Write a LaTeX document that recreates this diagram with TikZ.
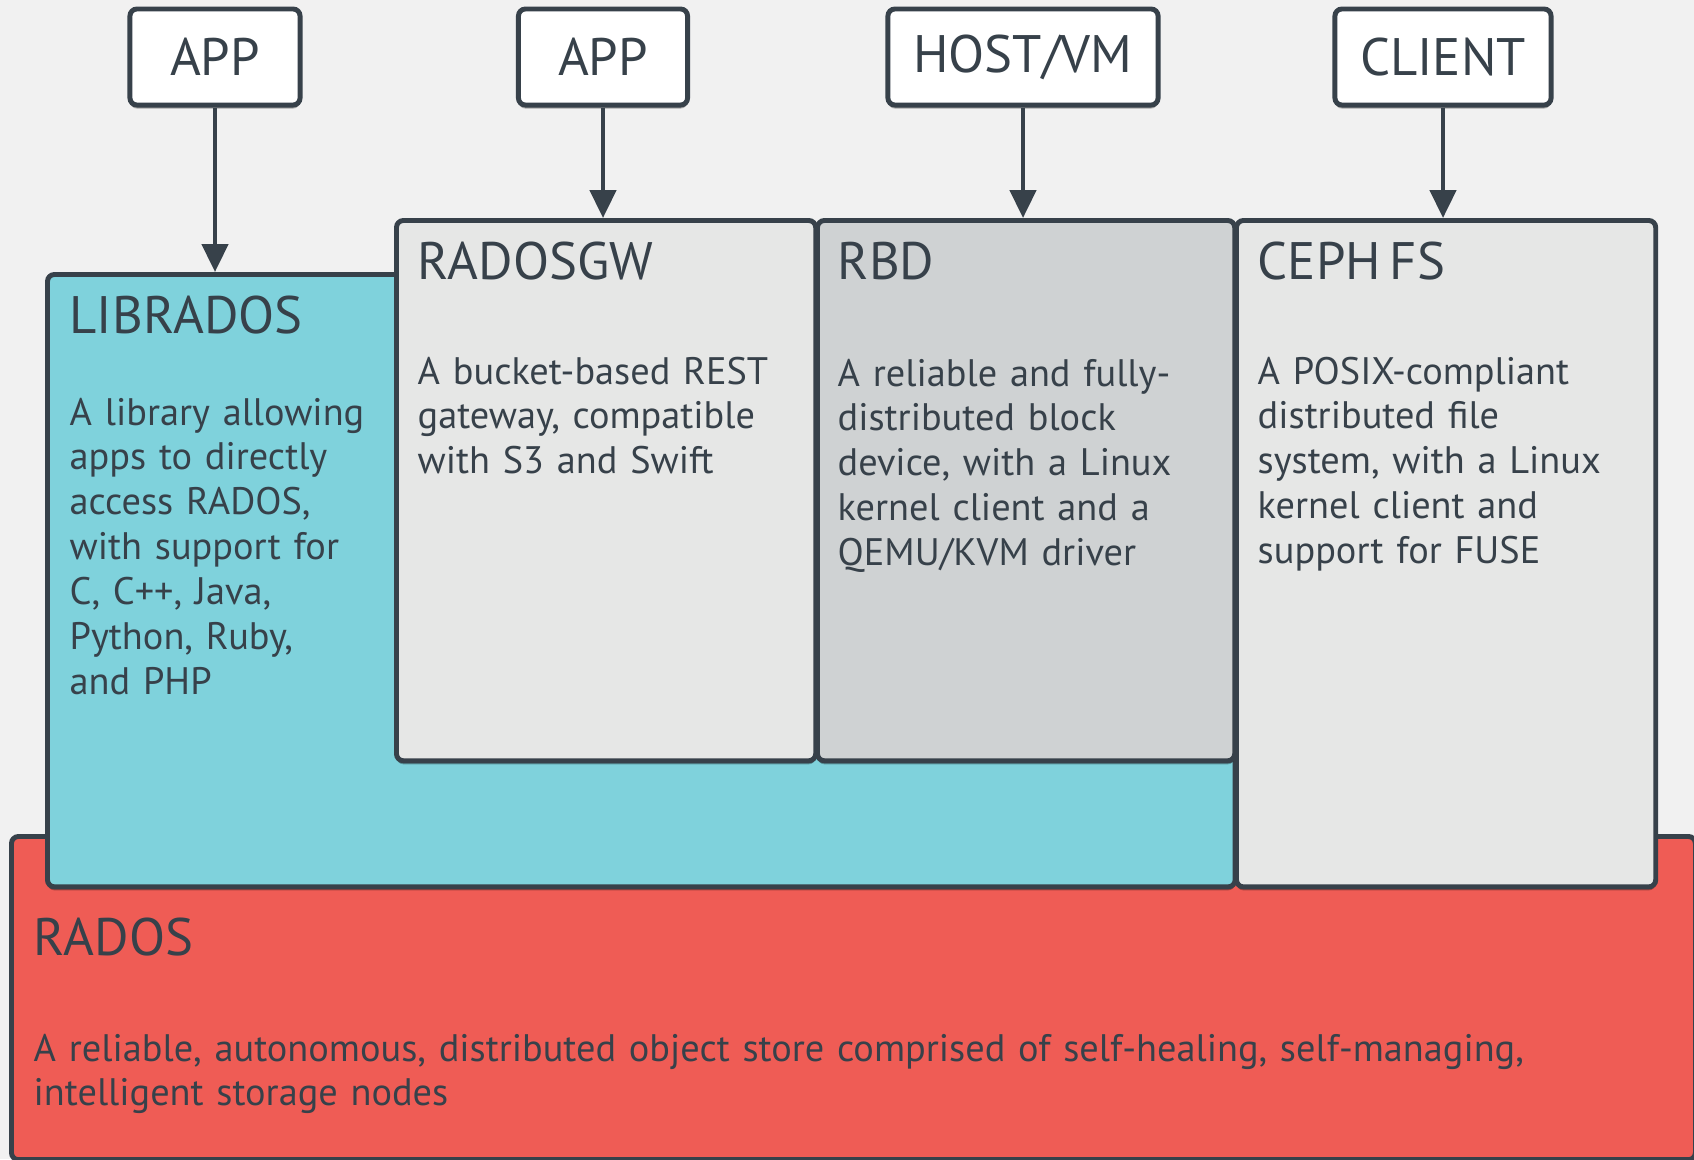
\documentclass[tikz,border=0pt]{standalone}
\usepackage{fontspec}
\setmainfont{PT Sans}
\usetikzlibrary{arrows.meta,positioning,shadows}

\definecolor{cephbg}{HTML}{F1F1F1}
\definecolor{cephink}{HTML}{37414A}
\definecolor{cephcyan}{HTML}{7FD2DC}
\definecolor{cephgrey}{HTML}{E6E7E6}
\definecolor{cephmid}{HTML}{CFD2D3}
\definecolor{cephred}{HTML}{EF5C55}

\begin{document}
\begin{tikzpicture}[
    x=0.01cm, y=-0.01cm,
    slab/.style={rectangle, draw=cephink, line width=1.4pt, rounded corners=0.07cm,
                 anchor=north west, inner sep=0pt,
                 drop shadow={shadow xshift=0pt, shadow yshift=-1pt, opacity=0.3, fill=black}},
    client/.style={slab, fill=white, anchor=center, minimum height=0.96cm,
                   text=cephink, font=\fontsize{15}{18}\selectfont},
    heading/.style={anchor=base west, inner sep=0pt, text=cephink, font=\fontsize{15}{18}\selectfont},
    blurb/.style={anchor=base west, inner sep=0pt, text=cephink, align=left,
                  text width=4cm, font=\fontsize{10.9}{12.75}\selectfont},
    feed/.style={-{Triangle[length=0.28cm,width=0.26cm]}, draw=cephink, line width=1.3pt}
]
    \useasboundingbox[fill=cephbg] (0,0) rectangle (1694,1159);

    % storage layers
    \node[slab, fill=cephred, minimum width=16.83cm, minimum height=3.23cm] (rados) at (9,834) {};
    \node[slab, fill=cephcyan, minimum width=11.87cm, minimum height=6.12cm] (librados) at (45,272) {};
    \node[slab, fill=cephgrey, minimum width=4.19cm, minimum height=5.40cm] (radosgw) at (394,218) {};
    \node[slab, fill=cephmid, minimum width=4.17cm, minimum height=5.40cm] (rbd) at (815,218) {};
    \node[slab, fill=cephgrey, minimum width=4.19cm, minimum height=6.66cm] (cephfs) at (1234,218) {};

    \node[heading] (radosname) at (33,955) {RADOS};
    \node[blurb, text width=16cm] (radostext) at (33,1061)
        {A reliable, autonomous, distributed object store comprised of self-healing, self-managing,\\
         intelligent storage nodes};

    \node[heading] (libname) at (69,333) {LIBRADOS};
    \node[blurb, text width=3.2cm] (libtext) at (69,425)
        {A library allowing\\apps to directly\\access RADOS,\\with support for\\C, C++, Java,\\Python, Ruby,\\and PHP};

    \node[heading] (gwname) at (417,279) {RADOSGW};
    \node[blurb] (gwtext) at (417,384)
        {A bucket-based REST\\gateway, compatible\\with S3 and Swift};

    \node[heading] (rbdname) at (837,279) {RBD};
    \node[blurb] (rbdtext) at (837,386)
        {A reliable and fully-\\distributed block\\device, with a Linux\\kernel client and a\\QEMU/KVM driver};

    \node[heading] (fsname) at (1257,279) {CEPH\,FS};
    \node[blurb] (fstext) at (1257,384)
        {A POSIX-compliant\\distributed file\\system, with a Linux\\kernel client and\\support for FUSE};

    % consumers
    \node[client, minimum width=1.70cm] (app1) at (215,57) {APP};
    \node[client, minimum width=1.69cm] (app2) at (603,57) {APP};
    \node[client, minimum width=2.70cm] (host) at (1023,57) {HOST/VM};
    \node[client, minimum width=2.16cm] (client) at (1443,57) {CLIENT};

    \draw[feed] (app1) -- (app1 |- librados.north);
    \draw[feed] (app2) -- (app2 |- radosgw.north);
    \draw[feed] (host) -- (host |- rbd.north);
    \draw[feed] (client) -- (client |- cephfs.north);
\end{tikzpicture}
\end{document}
